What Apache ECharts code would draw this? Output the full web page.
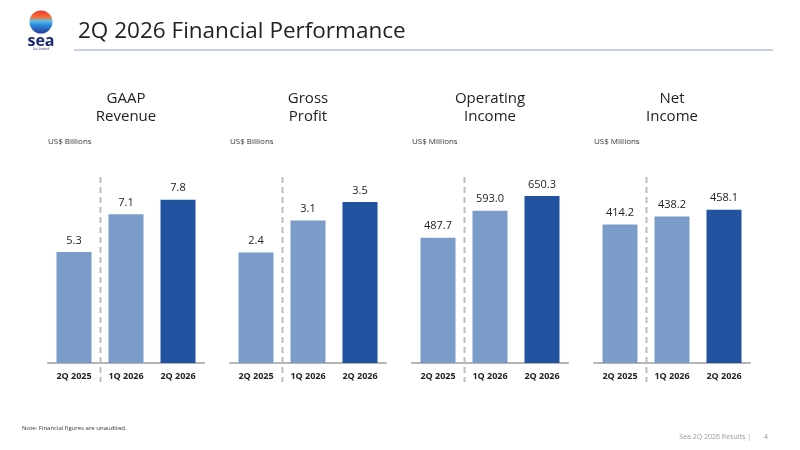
<!DOCTYPE html>
<html>
<head>
<meta charset="utf-8">
<title>2Q 2026 Financial Performance</title>
<style>
  html, body { margin: 0; padding: 0; background: #fff; }
  #main { width: 800px; height: 450px; }
</style>
</head>
<body>
<div id="main"></div>
<script src="https://cdn.jsdelivr.net/npm/echarts@6/dist/echarts.min.js"></script>
<script type="text/javascript">
// data
var periods = ['2Q 2025', '1Q 2026', '2Q 2026'];
var revenue = [5.3, 7.1, 7.8];
var grossProfit = [2.4, 3.1, 3.5];
var operatingIncome = [487.7, 593.0, 650.3];
var netIncome = [414.2, 438.2, 458.1];
var panelTitles = ['GAAP\nRevenue', 'Gross\nProfit', 'Operating\nIncome', 'Net\nIncome'];
var panelUnits = ['US$ Billions', 'US$ Billions', 'US$ Millions', 'US$ Millions'];

var panelData = [revenue, grossProfit, operatingIncome, netIncome];
var axisMax = [10.17, 4.63, 829, 637];

var lightBlue = '#7b9bc8';
var darkBlue = '#2152a0';
var font = 'Open Sans';

var myChart = echarts.init(document.getElementById('main'));

var grids = [], xAxes = [], yAxes = [], series = [], titles = [];
var panelLeft = 48, panelStep = 182, panelWidth = 156;

titles.push({
    text: '2Q 2026 Financial Performance',
    left: 78, top: 20, padding: 0,
    textStyle: { fontFamily: font, fontSize: 22.5, fontWeight: 'normal', color: '#222' }
});

for (var i = 0; i < 4; i++) {
    var left = panelLeft + i * panelStep;
    grids.push({ left: left, width: panelWidth, top: 150, height: 213 });
    xAxes.push({
        type: 'category', gridIndex: i, data: periods,
        axisLine: { lineStyle: { color: '#b5b5b5', width: 2 } },
        axisTick: { show: false },
        axisLabel: { color: '#222', fontFamily: font, fontSize: 9, fontWeight: 'bold', margin: 9 }
    });
    yAxes.push({
        type: 'value', gridIndex: i, min: 0, max: axisMax[i], show: false,
        splitLine: { show: false }
    });
    series.push({
        type: 'bar', xAxisIndex: i, yAxisIndex: i,
        barWidth: 35,
        data: panelData[i].map(function (v, k) {
            return { value: v, itemStyle: { color: k === 2 ? darkBlue : lightBlue } };
        }),
        label: {
            show: true, position: 'top', distance: 6,
            color: '#222', fontFamily: font, fontSize: 11,
            formatter: function (p) { return p.value.toFixed(1); }
        },
        silent: true
    });
    titles.push({
        text: panelTitles[i],
        left: left + panelWidth / 2, top: 90, padding: 0, textAlign: 'center',
        textStyle: { fontFamily: font, fontSize: 15, fontWeight: 'normal', color: '#222', lineHeight: 18 }
    });
    titles.push({
        text: panelUnits[i],
        left: left, top: 138, padding: 0,
        textStyle: { fontFamily: font, fontSize: 8, fontWeight: 'normal', color: '#333' }
    });
}

var option = {
    animation: false,
    title: titles,
    grid: grids,
    xAxis: xAxes,
    yAxis: yAxes,
    series: series,
    graphic: [
        // header rule
        { type: 'line', shape: { x1: 74, y1: 50, x2: 773, y2: 50 },
          style: { stroke: '#8fa4cc', lineWidth: 1.2 } },
        // logo
        { type: 'circle', shape: { cx: 41, cy: 22, r: 11.5 },
          style: { fill: new echarts.graphic.LinearGradient(0, 0, 0, 1, [
              { offset: 0, color: '#ee3a2c' },
              { offset: 0.3, color: '#f4733a' },
              { offset: 0.45, color: '#5cc0e6' },
              { offset: 0.62, color: '#2a8ee0' },
              { offset: 1, color: '#2b3a99' }
          ]) } },
        { type: 'text', x: 41, y: 41,
          style: { text: 'sea', fill: '#1c2a6e', font: 'bold 16px "Open Sans"', align: 'center', verticalAlign: 'middle' } },
        { type: 'text', x: 41, y: 49.5,
          style: { text: 'Sea Limited', fill: '#1c2a6e', font: '3px "Open Sans"', align: 'center', verticalAlign: 'middle' } },
        // footer
        { type: 'text', x: 22, y: 428,
          style: { text: 'Note: Financial figures are unaudited.', fill: '#333', font: '6px "Open Sans"', verticalAlign: 'middle' } },
        { type: 'text', x: 751, y: 437,
          style: { text: 'Sea 2Q 2026 Results |', fill: '#999', font: '7px "Open Sans"', align: 'right', verticalAlign: 'middle' } },
        { type: 'text', x: 766, y: 437,
          style: { text: '4', fill: '#999', font: '7px "Open Sans"', align: 'center', verticalAlign: 'middle' } }
    ]
};

myChart.setOption(option);

// dashed separators between the year-ago quarter and the recent quarters
var separators = [];
for (var j = 0; j < 4; j++) {
    var p0 = myChart.convertToPixel({ xAxisIndex: j }, periods[0]);
    var p1 = myChart.convertToPixel({ xAxisIndex: j }, periods[1]);
    var sx = Math.round((p0 + p1) / 2) + 0.5;
    separators.push({
        type: 'line', shape: { x1: sx, y1: 177, x2: sx, y2: 382 },
        style: { stroke: '#bdbdbd', lineWidth: 2, lineDash: [6, 4] }
    });
}
myChart.setOption({ graphic: option.graphic.concat(separators) });
</script>
</body>
</html>
